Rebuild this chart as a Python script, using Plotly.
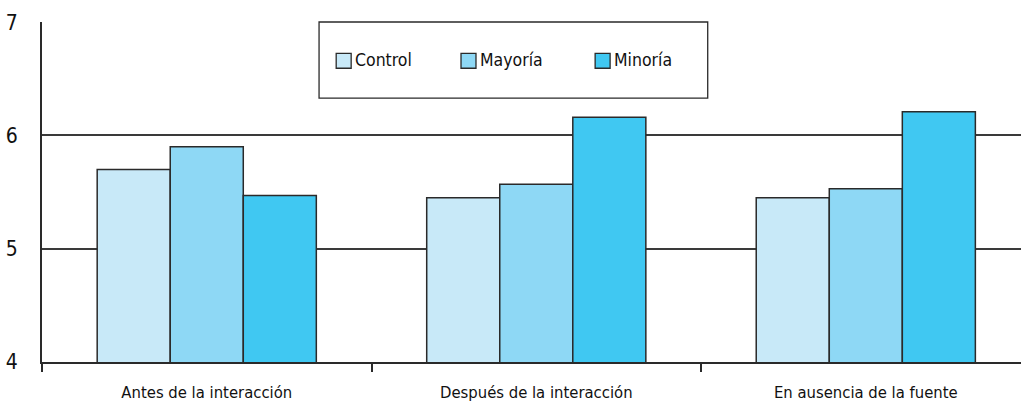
import plotly.graph_objects as go

# Survey means by phase and condition
categories = ["Antes de la interacción", "Después de la interacción", "En ausencia de la fuente"]
control = [5.70, 5.45, 5.45]
mayoria = [5.90, 5.57, 5.53]
minoria = [5.47, 6.16, 6.21]
series_names = ["Control", "Mayoría", "Minoría"]
y_ticks = [4, 5, 6, 7]

colors = ["#C8E9F8", "#8ED8F5", "#40C8F2"]
outline = "#2a2a2a"
font_family = "DejaVu Sans Condensed, Liberation Sans Narrow, Arial Narrow, sans-serif"

fig = go.Figure()
for name, vals, col in zip(series_names, [control, mayoria, minoria], colors):
    fig.add_trace(go.Bar(
        name=name, x=categories, y=vals,
        marker=dict(color=col, line=dict(color=outline, width=1.5)),
        showlegend=False,
    ))

# Boxed legend above the bars
legend_left, legend_right = 0.283, 0.680
fig.add_shape(type="rect", xref="paper", yref="paper",
              x0=legend_left, x1=legend_right, y0=0.776, y1=1.0,
              line=dict(color=outline, width=1.3), fillcolor="white", layer="above")
item_x = [0.3005, 0.4280, 0.5650]
for name, col, x in zip(series_names, colors, item_x):
    fig.add_shape(type="rect", xref="paper", yref="paper",
                  x0=x, x1=x + 0.0153, y0=0.864, y1=0.908,
                  line=dict(color=outline, width=1.3), fillcolor=col, layer="above")
    fig.add_annotation(xref="paper", yref="paper", x=x + 0.0175, y=0.889,
                       text=name, showarrow=False, xanchor="left", yanchor="middle",
                       font=dict(family=font_family, size=17.5, color="#111111"))

fig.update_layout(
    width=1021, height=405,
    margin=dict(l=42, r=0, t=22, b=43),
    paper_bgcolor="white", plot_bgcolor="white",
    barmode="group", bargap=0.335, bargroupgap=0,
    font=dict(family=font_family, size=20, color="#111111"),
)
fig.update_xaxes(
    range=[-0.5, 2.471], showline=True, linecolor=outline, linewidth=1.5,
    ticks="outside", tickson="boundaries", ticklen=8, tickcolor=outline, tickwidth=1.5,
    showgrid=False, tickfont=dict(size=16.5), ticklabelstandoff=14,
)
fig.update_yaxes(
    range=[4, 7.002], tickvals=y_ticks, showline=True, linecolor=outline, linewidth=2,
    showgrid=True, gridcolor="#3a3a3a", gridwidth=1.5, zeroline=False,
    ticks="", ticklabelstandoff=18, tickfont=dict(size=21),
)

fig.write_html("out.html")
